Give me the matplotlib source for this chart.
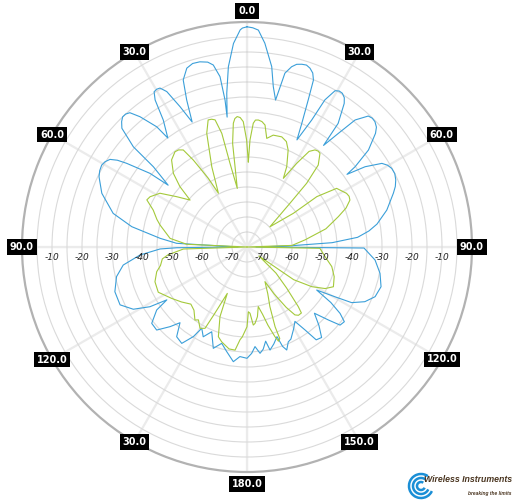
import numpy as np
import matplotlib
matplotlib.use("Agg")
import matplotlib.pyplot as plt
from matplotlib.patches import Arc

# radiation pattern, degrees clockwise from top, level in dB
blue_theta = [0, 1.5, 3, 5, 7.8, 9.3, 11, 12.3, 13.9, 15.2, 16.7, 18.1, 19.4, 20.7,
              21.7, 22.6, 23.9, 25, 27, 27.9, 29.4, 30.6, 31.8, 33.1, 34.1, 36.4, 37,
              38.8, 40.4, 42.8, 44.2, 45.6, 47.2, 48.5, 51.4, 53.4, 54, 55.8, 58.2,
              59.8, 61.5, 63.6, 65.7, 67.8, 69.8, 75.2, 80, 82.5, 85, 87.1, 88.5, 90,
              90.5, 95.8, 101.2, 106.5, 111.2, 114.9, 118, 119.5, 121.7, 123.5, 125.5,
              127.5, 130, 131.9, 134.5, 137.5, 140.5, 143.3, 145, 147.2, 150.5, 154.5,
              156.5, 158.9, 160.3, 161.5, 164.5, 167.4, 168.8, 171, 173, 175.4, 177.5,
              180, 183.7, 186.8, 191, 194.7, 198.4, 202.6, 206, 209.1, 210.9, 214.1,
              218.1, 221.5, 224, 227.4, 231.3, 235.1, 236.6, 238.4, 241.3, 245.5,
              251.3, 257.2, 261.7, 265.7, 268.7, 269.4, 270, 273, 275.7, 280, 284.1,
              290.3, 295.4, 297.4, 299.4, 301, 302.6, 303.8, 304.8, 307.2, 308.1,
              310.6, 311.4, 313.5, 315, 316.3, 317.6, 318.9, 320.6, 323.1, 324, 326.6,
              328, 329.1, 330.2, 331.3, 332.7, 334.5, 336.3, 337.7, 339.1, 341.4,
              343.5, 345.7, 348, 349.5, 351, 351.5, 351.3, 352.5, 354.1, 356.2, 358.2,
              358.8, 360]
blue_db = [-1.6, -1.9, -2.6, -6.8, -14.3, -20.8, -25.1, -15.7, -13.1, -11.9, -11.4,
           -11.2, -11.8, -13.0, -15.1, -21.9, -29.9, -35.6, -27.5, -19.5, -15.2, -14.6,
           -14.7, -15.6, -17.2, -23.8, -32.6, -26.4, -19.4, -15.5, -15.1, -15.3, -16.2,
           -17.8, -23.2, -30.1, -33.8, -27.4, -22.1, -20.8, -20.1, -20.0, -20.6, -21.6,
           -23.0, -26.8, -31, -34, -38, -46.6, -61, -72, -36, -32.1, -29.8, -28.4,
           -29.2, -31.7, -35.5, -41.3, -47.7, -41.5, -36.9, -34.1, -34.5, -38.6, -43.5,
           -39.5, -35.9, -36.4, -41.2, -45.5, -43.5, -41.0, -40.5, -38.2, -39.8, -43.5,
           -41.5, -39.8, -43.0, -40.5, -39.3, -41.7, -39.5, -37.9, -38.4, -36.5, -39.5,
           -41.8, -39.4, -44.4, -41.7, -44.0, -40.2, -36.2, -37.0, -41.3, -38.1, -34.1,
           -34.3, -38.3, -43.0, -37.0, -31.8, -28.5, -28.5, -30.4, -33.3, -39.2, -46,
           -51.6, -72, -51.5, -45.9, -36, -29, -23.4, -20.4, -19.7, -19.4, -19.8, -20.8,
           -23, -26.1, -34.4, -41.6, -33.9, -24.5, -17.5, -15.9, -15.0, -15.0, -15.6,
           -18.8, -24.9, -30.1, -24.3, -17.2, -14.7, -14.4, -14.6, -16.7, -23.2, -29.5,
           -22.0, -15.4, -12.1, -11.2, -11.3, -12.0, -13.3, -17.5, -25.5, -31.2, -23.3,
           -14.6, -7, -2.6, -2.0, -1.6]

green_theta = [0.9, 1.6, 2.9, 3.8, 5.1, 6.8, 8.4, 10.3, 13.2, 17.5, 20.5, 23, 26.3,
               27.9, 30.7, 33, 35, 36.5, 37.9, 41, 43.1, 44.5, 48.6, 54, 54.2, 56.8,
               61.7, 63.6, 65.5, 68.5, 71.6, 77, 83, 88, 90, 91, 97, 103, 108.8, 114.7,
               118, 121.5, 125, 127, 132, 136, 139.3, 140.5, 143, 144.8, 147, 150,
               152.6, 156, 159, 160.6, 160.3, 161.5, 162.7, 165, 167, 169.3, 171.5, 174,
               175.4, 177.4, 178.8, 180, 183, 184.3, 186.6, 190, 191.5, 195, 197.7,
               201.2, 203, 206, 207.3, 210, 213.7, 215.5, 220, 224.5, 230, 235.7, 243,
               249.3, 254.7, 257.9, 262, 264.3, 268.2, 270, 272.6, 276.4, 284.2, 287,
               291.5, 295.2, 297.4, 301.7, 305.6, 309.5, 312, 315, 319.1, 322.9, 324.8,
               326.7, 328.3, 330.6, 332, 336.3, 340.5, 343, 344.5, 345.9, 347.5, 348.5,
               350.6, 352.1, 353.7, 354.6, 355.7, 357, 358.3, 359.8, 360.9]
green_db = [-46.6, -39.3, -33.7, -32.6, -32.5, -32.9, -33.9, -38.2, -36.7, -36.5, -37.5,
            -39.9, -45.1, -49.1, -42.6, -37, -35.5, -35.2, -35.4, -38.8, -45.9, -54.6,
            -64.8, -55.9, -46.3, -39.3, -37.3, -37.0, -37.3, -39.5, -42.9, -48, -55.5,
            -60, -75, -50.7, -48.8, -46, -44.3, -43.3, -45.5, -49.7, -56, -70, -62, -56,
            -48.8, -46.5, -46.5, -47.3, -51, -57, -62, -58, -53.7, -46.8, -42.6, -41.9,
            -43.7, -48, -52, -54.8, -51.5, -49.4, -48.9, -52.9, -53.4, -48.4, -45, -44,
            -40.4, -40.5, -41.1, -42.3, -43.6, -50.1, -58.2, -50, -44.5, -43.7, -45.8,
            -45.1, -47.5, -48.3, -46.5, -44.6, -41.8, -42.2, -43.8, -45.5, -46.5, -48.5,
            -53.8, -75, -54.9, -49.2, -45.1, -43.6, -41.4, -38.1, -38.6, -40.9, -46.2,
            -50.4, -44.9, -40.3, -36.6, -35.2, -35.4, -36.3, -40.9, -48.7, -54.7, -45.8,
            -34.8, -30.7, -30.8, -31.3, -36.2, -46.5, -55.2, -40.1, -33.5, -32, -31.4,
            -31.8, -33.2, -39.3, -46.6]

ring_labels = [-10, -20, -30, -40, -50, -60, -70]
angle_ticks = [0, 30, 60, 90, 120, 150, 180, 210, 240, 270, 300, 330]
angle_text = ["0.0", "30.0", "60.0", "90.0", "120.0", "150.0", "180.0",
              "30.0", "120.0", "90.0", "60.0", "30.0"]

BLUE = "#3b9fd9"
GREEN = "#a4c93b"

fig = plt.figure(figsize=(5.15, 5.04), dpi=100)
ax = fig.add_axes([22 / 515, 32 / 504, 450 / 515, 450 / 504], projection="polar")
ax.set_theta_zero_location("N")
ax.set_theta_direction(-1)
ax.set_ylim(-75, 0)

ax.set_thetagrids(angle_ticks, labels=[])
ax.set_rgrids(np.arange(-70, 0, 5), labels=[])
ax.xaxis.grid(True, color="#ebebeb", lw=1.6)
ax.yaxis.grid(True, color="#dadada", lw=0.8)
for a in (0, 90, 180, 270):
    ax.axvline(np.radians(a), color="#d2d2d2", lw=0.8, zorder=1)
ax.spines["polar"].set_color("#b2b2b2")
ax.spines["polar"].set_linewidth(1.6)
ax.tick_params(length=0)

ax.plot(np.radians(blue_theta), blue_db, color=BLUE, lw=0.8, zorder=3)
ax.plot(np.radians(green_theta), green_db, color=GREEN, lw=0.8, zorder=4)

# ring values along the horizontal axis
for v in ring_labels:
    for side in (np.pi / 2, 3 * np.pi / 2):
        ax.annotate(str(v), xy=(side, v), xytext=(0, -4), textcoords="offset points",
                    ha="center", va="top", fontsize=6.5, style="italic",
                    color="#222222", zorder=6)

# angle labels in black boxes on the rim
for a, t in zip(angle_ticks, angle_text):
    dy = 0
    if a == 0:
        dy = 11
    elif a == 180:
        dy = -12
    ax.annotate(t, xy=(np.radians(a), 0), xytext=(0, dy), textcoords="offset pixels",
                ha="center", va="center", fontsize=7, fontweight="bold",
                color="white", annotation_clip=False, zorder=7,
                bbox=dict(boxstyle="square,pad=0.3", fc="black", ec="none"))

# logo
lax = fig.add_axes([400 / 515, 0, 40 / 515, 40 / 504])
lax.set_xlim(0, 40)
lax.set_ylim(0, 40)
lax.set_aspect("equal")
lax.axis("off")
for rad in (4, 8, 12):
    lax.add_patch(Arc((21, 18), 2 * rad, 2 * rad, theta1=55, theta2=335,
                      color="#1b8fd6", lw=1.8))
fig.text(424 / 515, 1 - 480 / 504, "Wireless Instruments", fontsize=6.3,
         fontweight="bold", style="italic", color="#4a3520", va="center",
         family=["Liberation Sans", "DejaVu Sans"])
fig.text(511 / 515, 1 - 494 / 504, "breaking the limits", fontsize=3.5,
         style="italic", fontweight="bold", color="#4a3520", ha="right", va="center",
         family=["Liberation Sans", "DejaVu Sans"])

fig.savefig("out.png", dpi=100, facecolor="white")
